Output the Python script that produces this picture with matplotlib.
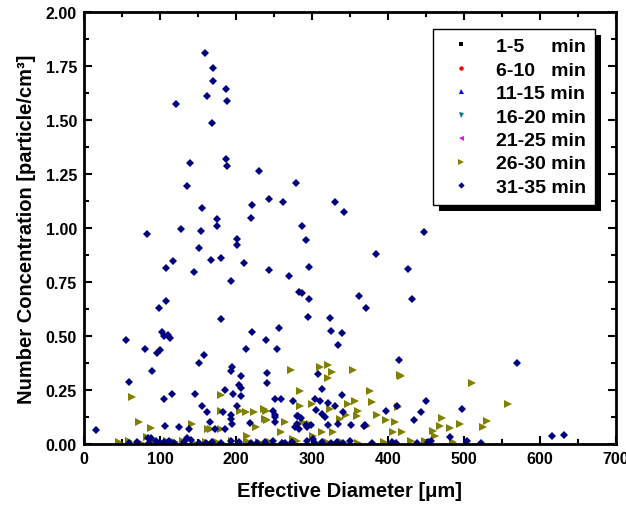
import matplotlib
matplotlib.use("Agg")
import matplotlib.pyplot as plt
from matplotlib.patches import Rectangle
from matplotlib.ticker import MultipleLocator, FormatStrFormatter

plt.rcParams["font.family"] = ["Liberation Sans", "DejaVu Sans"]
plt.rcParams["font.weight"] = "bold"

# 31-35 min (navy diamonds)
d31_x = [158.7, 169.7, 169.7, 186.6, 162.4, 187.7, 120.7, 168.7, 186.6, 188.7,
         139.2, 135, 229.8, 279.4, 243.5, 261.5, 331, 341.6, 221.4, 156,
         175.5, 220.4, 175, 286.8, 127.6, 154.5, 448, 83.3, 200.8, 201.9,
         292, 151.8, 384.8, 117.6, 167, 179.8, 210.9, 108, 145, 243.5,
         296.8, 427, 269.4, 193, 283.6, 286.8, 362, 108.6, 295.7, 431.7,
         370.6, 98.6, 180.8, 294.7, 324.2, 325.3, 340, 102.3, 105.4, 111.2,
         113.9, 221.4, 256.7, 55.9, 239.3, 334.7, 80.7, 95.9, 99.6, 213.5,
         253.6, 157.6, 151.8, 414.9, 570.4, 194.5, 194, 90.1, 240.4, 307.9,
         206.1, 59, 241.4, 203.5, 206.1, 313.7, 185, 115.4, 146.5, 196.1,
         206.6, 339, 105.4, 250.9, 259.9, 304, 310, 449.7, 274.6, 320.5,
         201.4, 155.5, 397, 497, 443.9, 330.5, 412, 162.4, 182.4, 193.5,
         250.9, 280.4, 340.6,
         166, 193, 195, 218, 106.5, 125, 138, 16, 172, 186,
         252, 279.9, 283, 299, 320.5, 334.7, 352, 370, 434, 481,
         615.7, 631.5, 85, 285.7, 292.5, 316.8, 305, 312.7, 277.6, 293,
         368, 249, 251, 282, 88, 135, 301.8,
         59, 70, 86, 95, 105, 112, 118, 132, 141, 151,
         168, 180, 193, 204, 228, 238, 249, 261, 274, 293,
         304, 313, 333, 341, 350, 379, 405, 438, 453, 457,
         503.5, 523, 100, 160, 220, 265, 325, 410]
d31_y = [1.81, 1.74, 1.68, 1.645, 1.61, 1.59, 1.575, 1.487, 1.32, 1.285,
         1.30, 1.195, 1.264, 1.208, 1.136, 1.12, 1.12, 1.075, 1.107, 1.093,
         1.04, 1.048, 1.01, 1.007, 0.996, 0.987, 0.982, 0.97, 0.947, 0.921,
         0.944, 0.907, 0.881, 0.849, 0.852, 0.862, 0.836, 0.813, 0.798, 0.807,
         0.819, 0.812, 0.779, 0.756, 0.703, 0.698, 0.687, 0.664, 0.67, 0.67,
         0.629, 0.629, 0.578, 0.589, 0.581, 0.524, 0.513, 0.517, 0.498, 0.504,
         0.492, 0.517, 0.535, 0.48, 0.483, 0.458, 0.438, 0.423, 0.437, 0.44,
         0.44, 0.412, 0.374, 0.39, 0.375, 0.358, 0.337, 0.338, 0.33, 0.326,
         0.315, 0.289, 0.281, 0.275, 0.258, 0.254, 0.252, 0.231, 0.231, 0.232,
         0.223, 0.227, 0.207, 0.207, 0.207, 0.207, 0.2, 0.198, 0.2, 0.192,
         0.177, 0.175, 0.152, 0.164, 0.146, 0.174, 0.174, 0.146, 0.146, 0.135,
         0.134, 0.131, 0.148,
         0.10, 0.117, 0.094, 0.098, 0.081, 0.08, 0.068, 0.066, 0.071, 0.068,
         0.10, 0.094, 0.07, 0.089, 0.089, 0.092, 0.089, 0.086, 0.11, 0.032,
         0.038, 0.043, 0.028, 0.12, 0.086, 0.125, 0.159, 0.139, 0.077, 0.077,
         0.085, 0.151, 0.127, 0.128, 0.026, 0.027, 0.023,
         0.005, 0.01, 0.005, 0.012, 0.008, 0.015, 0.005, 0.01, 0.018, 0.006,
         0.01, 0.005, 0.012, 0.008, 0.005, 0.01, 0.015, 0.005, 0.01, 0.012,
         0.005, 0.01, 0.008, 0.005, 0.012, 0.006, 0.01, 0.005, 0.008, 0.012,
         0.015, 0.005, 0.003, 0.004, 0.003, 0.004, 0.003, 0.004]

# 26-30 min (olive right triangles)
d26_x = [63.8, 72, 87.7, 142, 163, 180, 180, 206, 212.7, 223.7,
         226, 214.5, 166.7, 180, 83, 237, 241, 284, 240, 238,
         284, 299.6, 323.7, 347.8, 356.6, 361, 376, 378.5, 398, 409,
         413.6, 264, 288, 297, 259, 275, 301, 312.7, 327.6, 344.7,
         358.8, 372, 407, 337, 459.6, 462, 510, 558, 470.6, 530,
         468, 481.6, 494.7, 524.6, 273, 311, 321.5, 327, 321.5, 353.5,
         415.8, 417, 386, 418,
         46, 60, 75, 95, 110, 120, 130, 145, 160, 175,
         195, 215, 230, 245, 265, 280, 320, 340, 360, 395,
         430, 448.7, 485]
d26_y = [0.217, 0.10, 0.075, 0.093, 0.07, 0.227, 0.152, 0.152, 0.148, 0.148,
         0.079, 0.037, 0.07, 0.07, 0.032, 0.163, 0.11, 0.244, 0.154, 0.116,
         0.177, 0.185, 0.162, 0.185, 0.2, 0.154, 0.247, 0.193, 0.113, 0.10,
         0.17, 0.10, 0.10, 0.093, 0.054, 0.023, 0.038, 0.054, 0.054, 0.134,
         0.131, 0.085, 0.054, 0.116, 0.062, 0.036, 0.282, 0.185, 0.119, 0.108,
         0.085, 0.073, 0.093, 0.077, 0.344, 0.355, 0.366, 0.335, 0.304, 0.344,
         0.32, 0.317, 0.132, 0.055,
         0.008, 0.012, 0.006, 0.01, 0.015, 0.008, 0.012, 0.006, 0.01, 0.008,
         0.012, 0.015, 0.008, 0.01, 0.006, 0.012, 0.01, 0.008, 0.006, 0.01,
         0.012, 0.015, 0.008]

# earlier intervals, not visible in the plot
d1_x, d1_y = [], []
d6_x, d6_y = [], []
d11_x, d11_y = [], []
d16_x, d16_y = [], []
d21_x, d21_y = [], []

labels = ["1-5     min", "6-10   min", "11-15 min", "16-20 min",
          "21-25 min", "26-30 min", "31-35 min"]

fig = plt.figure(figsize=(6.26, 5.10), dpi=100)
ax = fig.add_axes([0.134, 0.1275, 0.85, 0.847])

series = [
    (d1_x, d1_y, "s", "black", 4),
    (d6_x, d6_y, "o", "red", 4),
    (d11_x, d11_y, "^", "blue", 4.5),
    (d16_x, d16_y, "v", "#008080", 4.5),
    (d21_x, d21_y, "<", "magenta", 4.5),
    (d26_x, d26_y, ">", "#808000", 5.5),
    (d31_x, d31_y, "D", "#000080", 4),
]
for (x, y, m, c, ms), lab in zip(series, labels):
    ax.plot(x, y, linestyle="none", marker=m, color=c, markersize=ms,
            markeredgewidth=0, label=lab)

ax.set_xlim(0, 700)
ax.set_ylim(0, 2.0)
ax.xaxis.set_major_locator(MultipleLocator(100))
ax.xaxis.set_minor_locator(MultipleLocator(50))
ax.yaxis.set_major_locator(MultipleLocator(0.25))
ax.yaxis.set_minor_locator(MultipleLocator(0.125))
ax.yaxis.set_major_formatter(FormatStrFormatter("%.2f"))
ax.tick_params(which="both", direction="in", top=True, right=True, width=1.5)
ax.tick_params(which="major", length=6, labelsize=11.5, pad=5)
ax.tick_params(which="minor", length=3.5)
for lbl in ax.get_xticklabels() + ax.get_yticklabels():
    lbl.set_fontweight("bold")
for sp in ax.spines.values():
    sp.set_linewidth(2)

ax.set_xlabel("Effective Diameter [\u03bcm]", fontsize=14.5, fontweight="bold", labelpad=11)
ax.set_ylabel("Number Concentration [particle/cm\u00b3]", fontsize=14.5, fontweight="bold", labelpad=7)

leg = ax.legend(loc="upper right", bbox_to_anchor=(0.96, 0.961), borderaxespad=0,
                fancybox=False, framealpha=1, edgecolor="black",
                prop={"size": 14, "weight": "bold"}, labelspacing=0.3,
                handletextpad=0.8, markerscale=0.8, handlelength=2.0,
                borderpad=0.45)
leg.get_frame().set_linewidth(1)
leg.set_zorder(6)

# black drop shadow behind the legend box
fig.canvas.draw()
bb = leg.get_window_extent()
x0, y0 = ax.transAxes.inverted().transform((bb.x0 + 6, bb.y0 - 6))
x1, y1 = ax.transAxes.inverted().transform((bb.x1 + 6, bb.y1 - 6))
shadow = Rectangle((x0, y0), x1 - x0, y1 - y0, transform=ax.transAxes,
                   facecolor="black", edgecolor="none", zorder=5, clip_on=False)
ax.add_patch(shadow)

fig.savefig("out.png", dpi=100)
